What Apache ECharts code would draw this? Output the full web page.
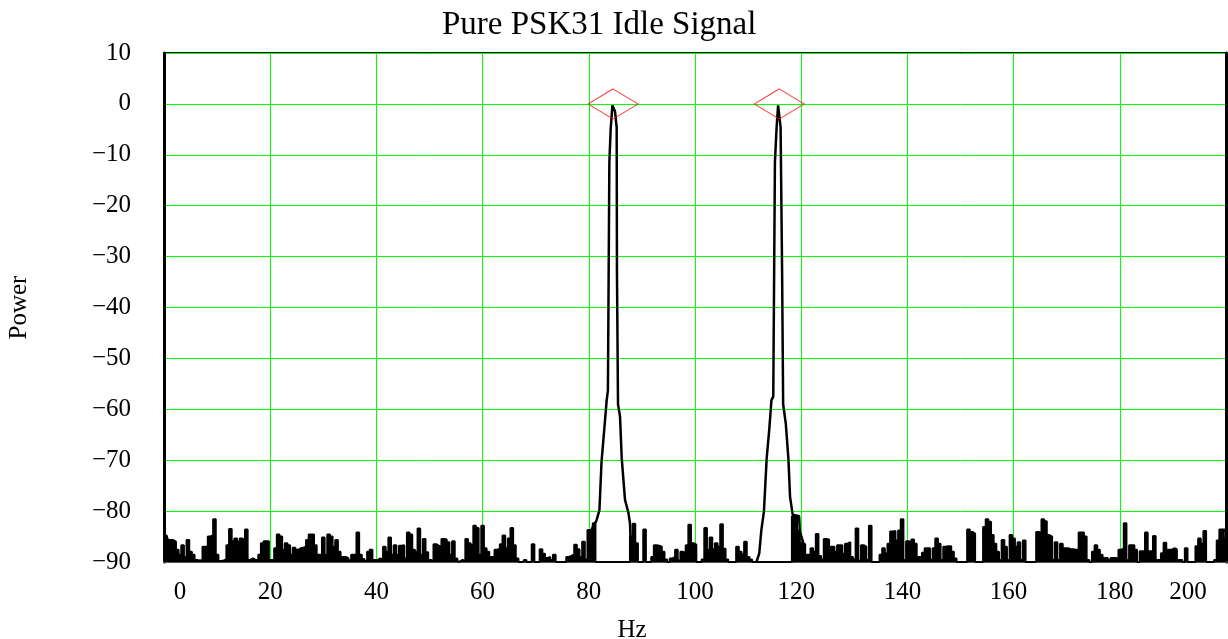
<!DOCTYPE html>
<html>
<head>
<meta charset="utf-8">
<title>Pure PSK31 Idle Signal</title>
<script src="https://cdn.jsdelivr.net/npm/echarts@6/dist/echarts.min.js"></script>
<style>
  html, body { margin: 0; padding: 0; background: #fff; }
  #chart { width: 1228px; height: 639px; }
</style>
</head>
<body>
<div id="chart"></div>
<script>
// spectrum noise floor, one value per 0.5 Hz from 0 to 200 Hz (dB)
var noiseStep = 0.5;
var noisePower = [
  -84.8, -84.8, -85.7, -85.7, -86.0, -87.6, -88.6, -86.7, -89.0, -85.7,
  -88.0, -88.6, -89.6, -89.7, -89.6, -87.0, -87.0, -85.0, -84.8, -81.6,
  -88.6, -89.8, -89.7, -89.5, -86.7, -83.5, -85.9, -85.4, -86.0, -85.4,
  -85.7, -83.6, -89.6, -89.3, -89.6, -89.6, -88.6, -86.3, -85.9, -85.9,
  -89.6, -89.6, -87.3, -84.6, -85.0, -87.6, -86.3, -86.7, -88.6, -87.2,
  -87.6, -87.3, -87.2, -87.0, -85.7, -84.6, -84.6, -86.7, -88.6, -88.6,
  -85.2, -88.6, -84.6, -85.0, -87.0, -85.7, -88.0, -89.0, -89.0, -89.3,
  -89.7, -88.6, -88.5, -84.2, -88.6, -89.4, -89.8, -88.0, -87.6, -89.6,
  -89.6, -89.3, -89.6, -87.0, -88.0, -85.2, -88.6, -86.7, -88.6, -86.8,
  -86.7, -89.3, -84.2, -84.6, -87.6, -88.0, -83.4, -88.6, -85.5, -88.1,
  -89.6, -89.9, -86.5, -86.8, -87.0, -85.5, -85.6, -86.1, -88.6, -85.9,
  -89.3, -89.9, -89.6, -89.9, -85.5, -86.3, -86.7, -82.9, -83.3, -88.6,
  -82.9, -87.3, -88.0, -89.0, -89.0, -87.6, -87.3, -86.5, -84.8, -87.3,
  -85.4, -83.3, -86.7, -89.3, -90, -90, -89.6, -90, -90, -86.5,
  -90, -90, -87.5, -88.4, -89.2, -89.0, -89.6, -88.6, -90, -90,
  -90, -90, -89.0, -88.8, -88.5, -86.6, -87.5, -89.0, -86.0, -89.5,
  -83.7, -84.0, -82.4, -90, -90, -90, -90, -90, -90, -90,
  -90, -90, -90, -90, -90, -90, -85.0, -82.5, -86.3, -90,
  -90, -83.6, -90, -90, -89.0, -86.7, -86.8, -87.0, -88.0, -89.5,
  -90, -89.3, -89.0, -87.6, -89.7, -88.0, -88.2, -86.7, -82.7, -86.3,
  -86.6, -90, -90, -89.5, -83.3, -87.6, -85.2, -87.5, -86.3, -87.0,
  -82.6, -87.4, -89.5, -90, -90, -90, -87.0, -88.0, -88.5, -86.0,
  -89.0, -89.5, -90, -90, -90, -90, -90, -90, -90, -90,
  -90, -90, -90, -90, -90, -90, -90, -81.0, -81.0, -83.8,
  -86.3, -86.5, -88.6, -88.6, -87.3, -88.0, -84.5, -88.8, -89.5, -85.5,
  -85.6, -87.0, -87.0, -88.0, -86.7, -86.7, -88.4, -86.4, -86.1, -89.0,
  -89.5, -83.4, -89.7, -86.7, -87.0, -89.6, -82.9, -90, -90, -90,
  -88.6, -87.3, -88.3, -86.4, -84.0, -83.9, -85.8, -83.8, -81.6, -89.6,
  -85.9, -86.1, -85.6, -86.4, -89.0, -89.0, -88.2, -87.3, -87.3, -89.6,
  -87.3, -85.4, -86.4, -89.6, -87.0, -86.9, -86.9, -88.0, -89.3, -90,
  -90, -90, -90, -83.6, -84.1, -84.4, -90, -90, -90, -83.1,
  -81.6, -82.1, -84.7, -86.4, -88.0, -89.6, -85.7, -87.0, -89.6, -84.7,
  -85.4, -87.0, -86.1, -89.6, -85.8, -90, -90, -90, -90, -84.1,
  -84.4, -81.6, -82.0, -84.7, -85.0, -89.6, -86.1, -89.6, -86.4, -87.3,
  -87.3, -87.5, -87.5, -87.6, -87.6, -84.2, -84.2, -85.0, -89.6, -90,
  -88.0, -86.7, -87.6, -88.6, -89.2, -89.2, -89.6, -89.2, -89.2, -89.5,
  -87.6, -87.3, -82.4, -89.6, -86.7, -86.7, -87.6, -90, -87.9, -87.9,
  -84.2, -87.9, -87.9, -84.9, -89.6, -89.6, -88.3, -86.2, -87.6, -87.6,
  -87.3, -87.5, -89.6, -89.6, -90, -87.3, -90, -90, -90, -86.9,
  -85.4, -86.4, -83.9, -90, -90, -90, -89.6, -85.8, -83.6, -83.6,
  -84.0
];

// the two idle tones
var peak1Hz = [80.5, 81.0, 81.4, 82.0, 82.4, 82.9, 83.37, 83.6, 83.87, 84.12, 84.45, 84.7, 84.94, 85.25, 85.3, 85.5, 85.88, 86.2, 86.82, 87.45, 87.76, 88.0];
var peak1Power = [-83.7, -82.6, -82.0, -79.8, -70.3, -64.1, -58.2, -56.3, -11.5, -4.9, -0.3, -0.3, -1.5, -4.6, -32.7, -59.0, -61.4, -69.6, -77.8, -80.3, -82.4, -89.8];
var peak2Hz = [111.6, 112.1, 112.5, 112.98, 113.5, 113.99, 114.4, 114.74, 115.05, 115.37, 115.65, 115.95, 116.12, 116.4, 116.6, 117.1, 117.6, 117.9, 118.4, 119.6, 119.76, 120.4];
var peak2Power = [-89.9, -88.3, -83.7, -80.1, -69.6, -63.9, -58.2, -57.5, -11.5, -4.6, -0.3, -0.3, -4.6, -32.7, -59.0, -62.8, -69.9, -77.2, -80.7, -81.0, -84.0, -86.3];

// red diamond markers on the tone peaks
var markerHz = [84.57, 115.87];
var markerPower = [0, 0];

var xTicks = [0, 20, 40, 60, 80, 100, 120, 140, 160, 180, 200];
var yTicks = [10, 0, -10, -20, -30, -40, -50, -60, -70, -80, -90];

function pairs(xs, ys) {
  var out = [];
  for (var i = 0; i < xs.length; i++) out.push([xs[i], ys[i]]);
  return out;
}

var noiseData = [];
for (var i = 0; i < noisePower.length; i++) {
  noiseData.push([i * noiseStep, noisePower[i]]);
}

var serif = '"Liberation Serif", "DejaVu Serif", serif';
var green = '#00ff00';

var chartDom = document.getElementById('chart');
var myChart = echarts.init(chartDom);
var option = {
  animation: false,
  backgroundColor: '#fff',
  title: {
    text: 'Pure PSK31 Idle Signal',
    left: 437,
    top: 4,
    textStyle: {
      fontFamily: serif,
      fontWeight: 'normal',
      fontSize: 33,
      color: '#000'
    }
  },
  grid: {
    left: 164,
    top: 53,
    width: 1062,
    height: 509,
    outerBoundsMode: 'none',
    containLabel: false,
    show: true,
    backgroundColor: 'rgba(0,0,0,0)',
    borderColor: '#111',
    borderWidth: 2
  },
  xAxis: {
    type: 'value',
    min: xTicks[0],
    max: xTicks[xTicks.length - 1],
    interval: 20,
    position: 'bottom',
    name: 'Hz',
    nameLocation: 'middle',
    nameGap: 56,
    nameTextStyle: {
      fontFamily: serif,
      fontSize: 25,
      color: '#000',
      padding: [0, 126, 0, 0]
    },
    axisLine: { show: true, onZero: false, lineStyle: { color: '#555', width: 2 } },
    axisTick: { show: false },
    splitLine: { show: true, lineStyle: { color: green, width: 1 } },
    axisLabel: {
      showMinLabel: true,
      showMaxLabel: true,
      margin: 18,
      fontFamily: serif,
      fontSize: 25,
      color: '#000',
      formatter: function (v) {
        if (v === 0) return '{l|0}';
        if (v === 200) return '{r|200}';
        if (v >= 120) return '{s|' + v + '}';
        return '{n|' + v + '}';
      },
      rich: {
        l: { fontFamily: serif, fontSize: 25, color: '#000', padding: [0, 0, 0, 32] },
        r: { fontFamily: serif, fontSize: 25, color: '#000', padding: [0, 76, 0, 0] },
        s: { fontFamily: serif, fontSize: 25, color: '#000', padding: [0, 10, 0, 0] },
        n: { fontFamily: serif, fontSize: 25, color: '#000' }
      }
    }
  },
  yAxis: [
    {
      type: 'value',
      min: yTicks[yTicks.length - 1],
      max: yTicks[0],
      interval: 10,
      position: 'left',
      name: 'Power',
      nameLocation: 'middle',
      nameRotate: 90,
      nameGap: 132,
      nameTextStyle: {
        fontFamily: serif,
        fontSize: 25,
        color: '#000'
      },
      axisLine: { show: true, onZero: false, lineStyle: { color: '#000', width: 3 } },
      axisTick: { show: false },
      splitLine: { show: true, lineStyle: { color: green, width: 1 } },
      axisLabel: {
        margin: 33,
        fontFamily: serif,
        fontSize: 25,
        color: '#000',
        formatter: function (v) {
          return String(v).replace('-', '\u2212');
        }
      }
    },
    {
      // thick right frame edge
      type: 'value',
      min: yTicks[yTicks.length - 1],
      max: yTicks[0],
      interval: 10,
      position: 'right',
      axisLine: { show: true, onZero: false, lineStyle: { color: '#000', width: 3 } },
      axisTick: { show: false },
      axisLabel: { show: false },
      splitLine: { show: false }
    }
  ],
  series: [
    {
      name: 'noise',
      type: 'line',
      step: 'middle',
      symbol: 'none',
      silent: true,
      data: noiseData,
      lineStyle: { color: '#000', width: 2 },
      areaStyle: { color: '#000', opacity: 1, origin: 'start' }
    },
    {
      name: 'tone 1',
      type: 'line',
      symbol: 'none',
      silent: true,
      data: pairs(peak1Hz, peak1Power),
      lineStyle: { color: '#000', width: 2.5 }
    },
    {
      name: 'tone 2',
      type: 'line',
      symbol: 'none',
      silent: true,
      data: pairs(peak2Hz, peak2Power),
      lineStyle: { color: '#000', width: 2.5 }
    },
    {
      name: 'peaks',
      type: 'scatter',
      symbol: 'diamond',
      symbolSize: [50, 30],
      silent: true,
      z: 5,
      data: pairs(markerHz, markerPower),
      itemStyle: {
        color: 'rgba(0,0,0,0)',
        borderColor: '#ff0000',
        borderWidth: 1
      }
    }
  ]
};

option && myChart.setOption(option);
window.addEventListener('resize', function () {
  myChart.resize();
});
</script>
</body>
</html>
